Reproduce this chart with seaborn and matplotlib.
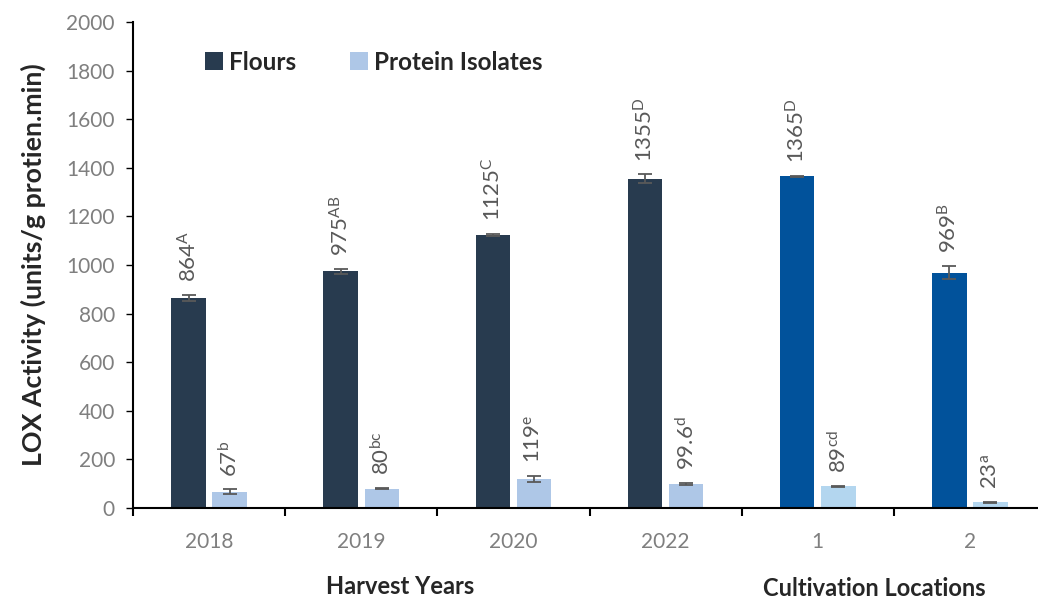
import matplotlib
matplotlib.use("Agg")
import matplotlib.pyplot as plt
import seaborn as sns
import pandas as pd
from matplotlib.patches import Patch

# Sample groups: four harvest years, then two cultivation locations
categories = ["2018", "2019", "2020", "2022", "1", "2"]
series = ["Flours", "Protein Isolates"]

flour_values = [864, 975, 1125, 1355, 1365, 969]
flour_errors = [12, 10, 4, 18, 2, 27]
flour_letters = ["A", "AB", "C", "D", "D", "B"]
flour_labels = ["864", "975", "1125", "1355", "1365", "969"]

isolate_values = [67, 80, 119, 99.6, 89, 23]
isolate_errors = [10, 3, 14, 3, 3, 2]
isolate_letters = ["b", "bc", "e", "d", "cd", "a"]
isolate_labels = ["67", "80", "119", "99.6", "89", "23"]

location_categories = ["1", "2"]

sns.set_theme(style="white")
plt.rcParams["font.family"] = ["Lato", "DejaVu Sans"]
plt.rcParams["mathtext.default"] = "regular"

df = pd.DataFrame({
    "group": categories * 2,
    "series": [series[0]] * len(categories) + [series[1]] * len(categories),
    "value": flour_values + isolate_values,
})

year_colors = {"Flours": "#283B4F", "Protein Isolates": "#AEC7E7"}
location_colors = {"Flours": "#01529B", "Protein Isolates": "#B3D6EF"}

fig = plt.figure(figsize=(10.38, 5.99), dpi=100)
ax = fig.add_axes([133 / 1038, 91 / 599, 913 / 1038, 486 / 599])

sns.barplot(data=df, x="group", y="value", hue="series", order=categories,
            hue_order=series, palette=year_colors, width=0.54, gap=0.16,
            errorbar=None, legend=False, ax=ax, saturation=1)

label_color = "#595959"
for cont, name, vals, errs, labs, lets in zip(
        ax.containers, series,
        [flour_values, isolate_values], [flour_errors, isolate_errors],
        [flour_labels, isolate_labels], [flour_letters, isolate_letters]):
    for i, bar in enumerate(cont):
        bar.set_linewidth(0)
        if categories[i] in location_categories:
            bar.set_facecolor(location_colors[name])
        xc = bar.get_x() + bar.get_width() / 2
        ax.errorbar(xc, vals[i], yerr=errs[i], fmt="none", ecolor=label_color,
                    elinewidth=1.3, capsize=5, capthick=1.3, zorder=3)
        ax.text(xc, vals[i] + errs[i] + 52, f"{labs[i]}$^{{{lets[i]}}}$",
                rotation=90, ha="center", va="bottom", fontsize=16,
                color=label_color)

ax.set_ylim(0, 2000)
ax.set_xlim(-0.5, 5.5)
ax.set_yticks(range(0, 2001, 200))
ax.tick_params(axis="y", which="major", direction="out", length=5, width=1,
               color="black", labelsize=15, labelcolor="#7F7F7F", pad=8, left=True)
ax.set_xticks(range(len(categories)))
ax.set_xticklabels(categories)
ax.tick_params(axis="x", which="major", length=0, labelsize=15,
               labelcolor="#7F7F7F", pad=17)
ax.set_xticks([i - 0.5 for i in range(len(categories) + 1)], minor=True)
ax.tick_params(axis="x", which="minor", direction="out", length=6, width=1.5,
               color="black", bottom=True)

for side in ["top", "right"]:
    ax.spines[side].set_visible(False)
for side in ["left", "bottom"]:
    ax.spines[side].set_color("black")
    ax.spines[side].set_linewidth(1.5)

ax.set_xlabel("")
ax.set_ylabel("LOX Activity (units/g protien.min)", fontsize=19.3,
              fontweight="bold", color="#262626", labelpad=15)

fig.text(400 / 1038, 1 - 587 / 599, "Harvest Years", ha="center", va="center",
         fontsize=17, fontweight="bold", color="#262626")
fig.text(874 / 1038, 1 - 589 / 599, "Cultivation Locations", ha="center",
         va="center", fontsize=17, fontweight="bold", color="#262626")

handles = [Patch(facecolor=year_colors[s], edgecolor="none", label=s) for s in series]
leg = fig.legend(handles=handles, loc="center left",
                 bbox_to_anchor=(205 / 1038, 1 - 62 / 599), ncol=2, frameon=False,
                 borderpad=0, borderaxespad=0,
                 handlelength=0.75, handleheight=0.75, handletextpad=0.25,
                 columnspacing=2.2, prop={"size": 17.5, "weight": "bold"})
for t in leg.get_texts():
    t.set_color("#262626")

fig.savefig("out.png", dpi=100)
